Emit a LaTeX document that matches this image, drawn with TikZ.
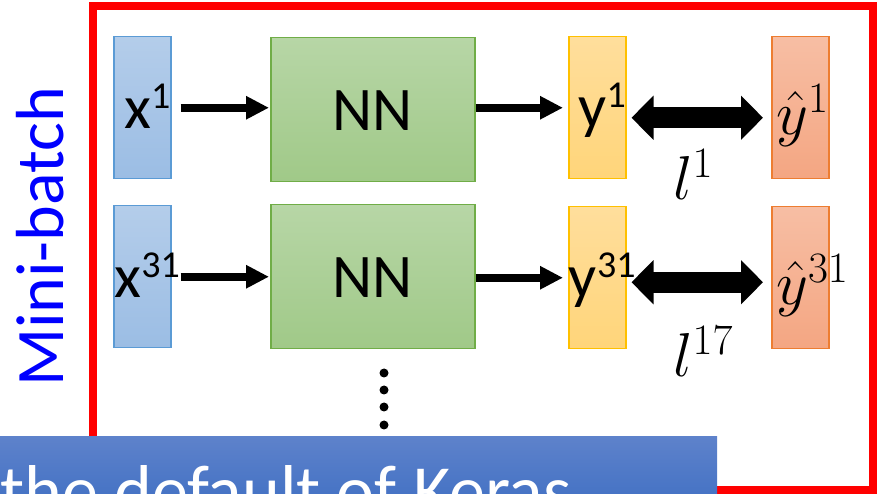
\RequirePackage{fix-cm}
\documentclass[tikz,border=0pt]{standalone}
\usepackage[no-math]{fontspec}
\setmainfont{Carlito}
\usetikzlibrary{positioning,arrows.meta}

\definecolor{xedge}{RGB}{91,155,213}
\definecolor{xtop}{RGB}{180,205,234}
\definecolor{xbot}{RGB}{155,189,228}
\definecolor{nnedge}{RGB}{112,173,71}
\definecolor{nntop}{RGB}{183,214,166}
\definecolor{nnbot}{RGB}{160,201,136}
\definecolor{yedge}{RGB}{255,192,0}
\definecolor{ytop}{RGB}{255,222,156}
\definecolor{ybot}{RGB}{255,213,122}
\definecolor{hedge}{RGB}{237,125,49}
\definecolor{htop}{RGB}{247,190,164}
\definecolor{hbot}{RGB}{244,166,130}
\definecolor{bantop}{RGB}{94,130,203}
\definecolor{banbot}{RGB}{68,114,196}

\newcommand{\upidx}[1]{\raisebox{20pt}{\fontsize{38}{38}\selectfont #1}}

\tikzset{
  vec/.style={draw=#1edge, line width=1.5pt, top color=#1top, bottom color=#1bot,
    minimum width=57pt, minimum height=142pt, inner sep=0pt, anchor=north west},
  net/.style={vec=nn, minimum width=204pt, minimum height=144pt},
  word/.style={font=\fontsize{62}{70}\selectfont, inner sep=0pt, anchor=base},
  mword/.style={font=\fontsize{62}{70}\selectfont, inner sep=0pt, anchor=base west},
  feed/.style={-{Triangle[length=23pt,width=22pt]}, line width=8pt},
  loss/.style={{Triangle[length=22pt,width=43pt]}-{Triangle[length=22pt,width=43pt]}, line width=21pt},
  banner/.style={top color=bantop, bottom color=banbot, inner sep=0pt, anchor=north west},
}

\begin{document}
\begin{tikzpicture}[x=1pt, y=-1pt]
  \useasboundingbox (0,0) rectangle (879,494);
  \clip (0,0) rectangle (879,494);
  % the batch frame
  \draw[red, line width=8pt] (93,6.5) rectangle (873,490);
  \node[rotate=90, text=blue, font=\fontsize{68}{72}\selectfont] (mb) at (40,237) {Mini-batch};

  % first example
  \node[vec=x] (x1) at (113,36) {};
  \node[net] (nn1) at (270,37) {};
  \node[vec=y] (y1) at (568,36) {};
  \node[vec=h] (yh1) at (771,36) {};
  \node[word] (tx1) at ([xshift=5pt,yshift=-21pt]x1.center) {x\upidx{1}};
  \node[word] (tnn1) at ([yshift=-21pt]nn1.center) {NN};
  \node[word] (ty1) at ([xshift=5pt,yshift=-20pt]y1.center) {y\upidx{1}};
  \node[mword] (tyh1) at ([xshift=5pt,yshift=-27pt]yh1.west) {$\hat{y}^{1}$};
  \draw[feed, shorten <=9pt, shorten >=1pt] (x1.east) -- (x1.east -| nn1.west);
  \draw[feed, shorten >=5pt] (y1.west -| nn1.east) -- (y1.west);
  \draw[loss, shorten <=5pt, shorten >=8pt] ([yshift=-10pt]y1.east) -- ([yshift=-10pt]yh1.west);
  \node[mword] (l1) at (673,200) {$l^{1}$};

  % second example
  \node[vec=x] (x31) at (113,205) {};
  \node[net] (nn31) at (270,204) {};
  \node[vec=y] (y31) at (568,206) {};
  \node[vec=h] (yh31) at (771,206) {};
  \node[word] (tx31) at ([xshift=5pt,yshift=-21pt]x31.center) {x\upidx{31}};
  \node[word] (tnn31) at ([yshift=-21pt]nn31.center) {NN};
  \node[word] (ty31) at ([xshift=5pt,yshift=-20pt]y31.center) {y\upidx{31}};
  \node[mword] (tyh31) at ([xshift=5pt,yshift=-27pt]yh31.west) {$\hat{y}^{31}$};
  \draw[feed, shorten <=9pt, shorten >=1pt] (x31.east) -- (x31.east -| nn31.west);
  \draw[feed, shorten >=5pt] (y31.west -| nn31.east) -- (y31.west);
  \draw[loss, shorten <=5pt, shorten >=8pt] ([yshift=-4.5pt]y31.east) -- ([yshift=-4.5pt]yh31.west);
  \node[mword] (l17) at (673,377) {$l^{17}$};

  % more examples
  \foreach \d in {373,390,407,425}
    \fill (384,\d) circle (4.5pt);

  \node[banner, minimum width=717pt, minimum height=64pt] (keras) at (0,436) {};
  \node[font=\fontsize{72}{80}\selectfont, text=white, anchor=base west, inner sep=0pt] (kerastxt) at (0,515) {the default of Keras};
\end{tikzpicture}
\end{document}
